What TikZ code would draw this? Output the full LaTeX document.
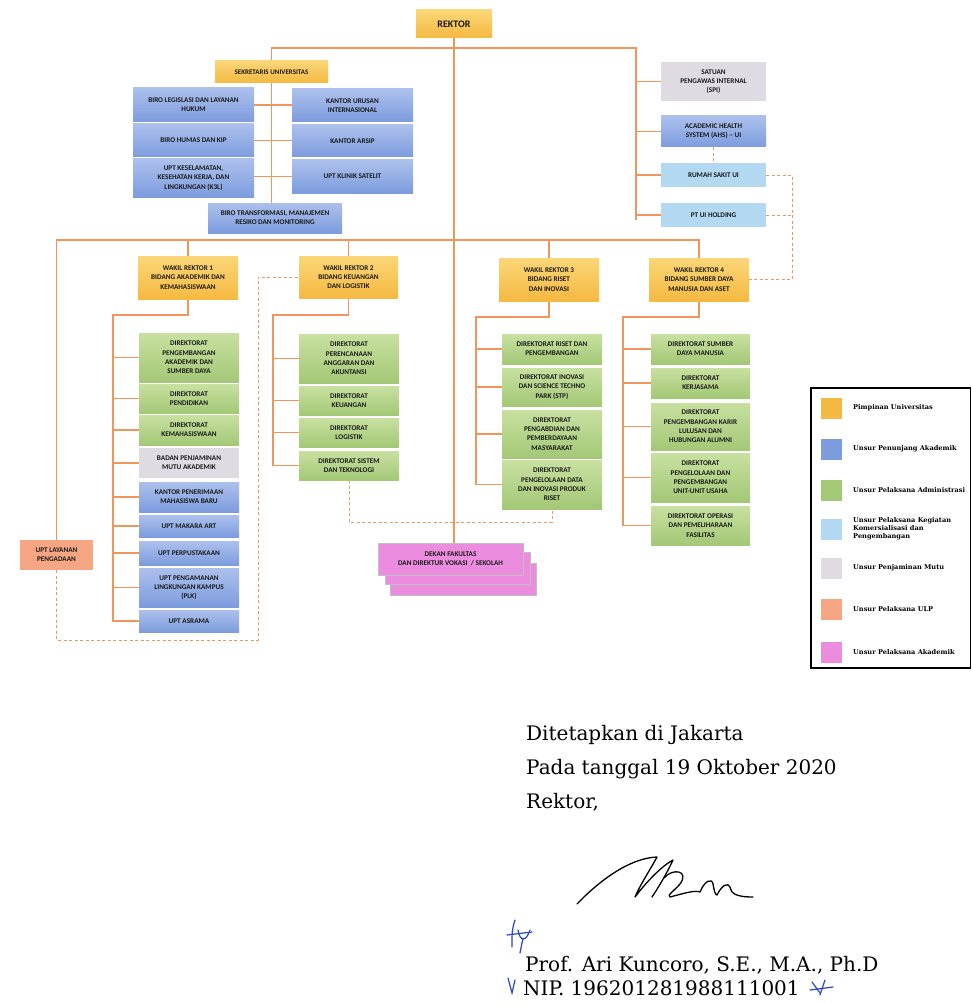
\documentclass[tikz,border=0pt]{standalone}
\usepackage{fontspec}
\setmainfont{Carlito}
\newfontfamily\sigfont{DejaVu Serif}
\pgfdeclarelayer{bg}
\pgfsetlayers{bg,main}
\definecolor{lineor}{RGB}{240,150,90}
\definecolor{ldrtop}{RGB}{251,214,120}
\definecolor{ldrbot}{RGB}{245,185,65}
\definecolor{bluetop}{RGB}{172,192,236}
\definecolor{bluebot}{RGB}{125,156,222}
\definecolor{grntop}{RGB}{200,224,160}
\definecolor{grnbot}{RGB}{163,200,118}
\definecolor{ltblue}{RGB}{178,216,242}
\definecolor{mutu}{RGB}{222,219,227}
\definecolor{ulpc}{RGB}{246,166,130}
\definecolor{akad}{RGB}{236,140,222}
\definecolor{inkblue}{RGB}{40,70,200}
\tikzset{
    unit/.style={rectangle, inner sep=1pt, align=center, font=\fontsize{7.2}{9.3}\selectfont\bfseries, text=black!90},
    leader/.style={unit, top color=ldrtop, bottom color=ldrbot},
    penunjang/.style={unit, top color=bluetop, bottom color=bluebot},
    admin/.style={unit, top color=grntop, bottom color=grnbot},
    komersial/.style={unit, fill=ltblue},
    mutubox/.style={unit, fill=mutu},
    ulpbox/.style={unit, fill=ulpc},
    akadbox/.style={unit, fill=akad, draw=black!25, line width=.4pt},
    dim/.style 2 args={minimum width=#1pt, minimum height=#2pt},
    link/.style={draw=lineor, line width=1.4pt},
    dlink/.style={draw=lineor, line width=.8pt, dash pattern=on 3pt off 2.5pt},
    swatch/.style={rectangle, minimum size=21pt, inner sep=0pt},
    keytext/.style={anchor=west, align=left, inner sep=0pt, font=\sigfont\fontsize{6.6}{7.8}\selectfont\bfseries},
    sigtext/.style={anchor=base west, inner sep=0pt, font=\sigfont\fontsize{20}{24}\selectfont},
    sigline/.style={draw=black, line width=1.3pt, line cap=round, line join=round},
    ink/.style={draw=inkblue, line width=1.2pt, line cap=round}
}
\begin{document}
\begin{tikzpicture}[x=1pt, y=-1pt]
    \useasboundingbox (0,0) rectangle (971,1003);

    \node (rektor) [leader, dim={76}{28}, font=\fontsize{10}{12}\selectfont\bfseries] at (454, 24) {REKTOR};
    \node (sekretaris) [leader, dim={113}{22}, font=\fontsize{7}{8}\selectfont\bfseries] at (271.5, 72) {SEKRETARIS UNIVERSITAS};
    \node (biroleg) [penunjang, dim={121}{34}] at (193.5, 105) {BIRO LEGISLASI DAN LAYANAN\\HUKUM};
    \node (birohumas) [penunjang, dim={121}{33}] at (193.5, 140.5) {BIRO HUMAS DAN KIP};
    \node (uptkkl) [penunjang, dim={121}{38}] at (193.5, 178) {UPT KESELAMATAN,\\KESEHATAN KERJA, DAN\\LINGKUNGAN (K3L)};
    \node (kui) [penunjang, dim={121}{33}] at (352.5, 105.5) {KANTOR URUSAN\\INTERNASIONAL};
    \node (arsip) [penunjang, dim={121}{32}] at (352.5, 141) {KANTOR ARSIP};
    \node (klinik) [penunjang, dim={121}{33}] at (352.5, 176.5) {UPT KLINIK SATELIT};
    \node (birotrans) [penunjang, dim={134}{30}] at (275, 218) {BIRO TRANSFORMASI, MANAJEMEN\\RESIKO DAN MONITORING};

    \node (spi) [mutubox, dim={105}{39}] at (713.5, 81.5) {SATUAN\\PENGAWAS INTERNAL\\(SPI)};
    \node (ahs) [penunjang, dim={105}{31}] at (713.5, 131.5) {ACADEMIC HEALTH\\SYSTEM (AHS) -- UI};
    \node (rsui) [komersial, dim={105}{24}] at (713.5, 175) {RUMAH SAKIT UI};
    \node (ptui) [komersial, dim={105}{24}] at (713.5, 215) {PT UI HOLDING};

    \node (wr1) [leader, dim={100}{43}] at (188, 277.5) {WAKIL REKTOR 1\\BIDANG AKADEMIK DAN\\KEMAHASISWAAN};
    \node (wr2) [leader, dim={99}{42}] at (348.5, 277) {WAKIL REKTOR 2\\BIDANG KEUANGAN\\DAN LOGISTIK};
    \node (wr3) [leader, dim={100}{43}] at (549, 279.5) {WAKIL REKTOR 3\\BIDANG RISET\\DAN INOVASI};
    \node (wr4) [leader, dim={100}{43}] at (699, 279.5) {WAKIL REKTOR 4\\BIDANG SUMBER DAYA\\MANUSIA DAN ASET};

    \node (dpasd) [admin, dim={100}{49}] at (189, 357.5) {DIREKTORAT\\PENGEMBANGAN\\AKADEMIK DAN\\SUMBER DAYA};
    \node (dpend) [admin, dim={100}{29}] at (189, 398.5) {DIREKTORAT\\PENDIDIKAN};
    \node (dkema) [admin, dim={100}{30}] at (189, 430) {DIREKTORAT\\KEMAHASISWAAN};
    \node (bpma) [mutubox, dim={100}{30}] at (189, 463) {BADAN PENJAMINAN\\MUTU AKADEMIK};
    \node (kpmb) [penunjang, dim={100}{30}] at (189, 497) {KANTOR PENERIMAAN\\MAHASISWA BARU};
    \node (makara) [penunjang, dim={100}{22}] at (189, 526) {UPT MAKARA ART};
    \node (perpus) [penunjang, dim={100}{24}] at (189, 553) {UPT PERPUSTAKAAN};
    \node (plk) [penunjang, dim={100}{39}] at (189, 587.5) {UPT PENGAMANAN\\LINGKUNGAN KAMPUS\\(PLK)};
    \node (asrama) [penunjang, dim={100}{22}] at (189, 621) {UPT ASRAMA};

    \node (dpaa) [admin, dim={100}{49}] at (349, 358.5) {DIREKTORAT\\PERENCANAAN\\ANGGARAN DAN\\AKUNTANSI};
    \node (dkeu) [admin, dim={100}{29}] at (349, 400.5) {DIREKTORAT\\KEUANGAN};
    \node (dlog) [admin, dim={100}{29}] at (349, 432.5) {DIREKTORAT\\LOGISTIK};
    \node (dsti) [admin, dim={100}{29}] at (349, 465.5) {DIREKTORAT SISTEM\\DAN TEKNOLOGI};

    \node (drp) [admin, dim={100}{30}] at (552, 349) {DIREKTORAT RISET DAN\\PENGEMBANGAN};
    \node (dstp) [admin, dim={100}{38}] at (552, 387) {DIREKTORAT INOVASI\\DAN SCIENCE TECHNO\\PARK (STP)};
    \node (dppm) [admin, dim={100}{48}] at (552, 434) {DIREKTORAT\\PENGABDIAN DAN\\PEMBERDAYAAN\\MASYARAKAT};
    \node (dpdi) [admin, dim={100}{49}] at (552, 484.5) {DIREKTORAT\\PENGELOLAAN DATA\\DAN INOVASI PRODUK\\RISET};

    \node (dsdm) [admin, dim={99}{30}] at (700.5, 349) {DIREKTORAT SUMBER\\DAYA MANUSIA};
    \node (dkerja) [admin, dim={99}{30}] at (700.5, 383) {DIREKTORAT\\KERJASAMA};
    \node (dkarir) [admin, dim={99}{47}] at (700.5, 426.5) {DIREKTORAT\\PENGEMBANGAN KARIR\\LULUSAN DAN\\HUBUNGAN ALUMNI};
    \node (dusaha) [admin, dim={99}{49}] at (700.5, 477.5) {DIREKTORAT\\PENGELOLAAN DAN\\PENGEMBANGAN\\UNIT-UNIT USAHA};
    \node (dfasil) [admin, dim={99}{39}] at (700.5, 525.5) {DIREKTORAT OPERASI\\DAN PEMELIHARAAN\\FASILITAS};

    \node (ulp) [ulpbox, dim={73}{30}] at (56.5, 555) {UPT LAYANAN\\PENGADAAN};

    \node (dekan3) [akadbox, dim={146}{32}] at (463, 579) {};
    \node (dekan2) [akadbox, dim={145}{32}] at (457.5, 568.5) {};
    \node (dekan) [akadbox, dim={145}{32}] at (450.5, 559) {DEKAN FAKULTAS\\DAN DIREKTUR VOKASI~~/ SEKOLAH};

    % legend
    \draw [line width=1.2pt] (811, 388) rectangle (970.4, 668);
    \foreach \n/\y/\c/\t in {1/408/ldrbot/Pimpinan Universitas, 2/449/bluebot/Unsur Penunjang Akademik,
        3/490/grnbot/Unsur Pelaksana Administrasi, 4/529/ltblue/{Unsur Pelaksana Kegiatan\\Komersialisasi dan\\Pengembangan},
        5/568/mutu/Unsur Penjaminan Mutu, 6/609/ulpc/Unsur Pelaksana ULP, 7/652/akad/Unsur Pelaksana Akademik}
    {
        \node (key\n) [swatch, fill=\c] at (831.5, \y) {};
        \node (keytxt\n) [keytext] at (853, \y) {\t};
    }

    % signature block
    \node (place) [sigtext] at (526, 740) {Ditetapkan di Jakarta};
    \node (date) [sigtext] at (526, 774) {Pada tanggal 19 Oktober 2020};
    \node (title) [sigtext] at (526, 808) {Rektor,};
    \node (name) [sigtext] at (525, 971) {Prof. Ari Kuncoro, S.E., M.A., Ph.D};
    \node (nip) [sigtext] at (523, 995) {NIP. 196201281988111001};

    \draw [sigline] (577,904) .. controls (600,880) and (630,858) .. (657,857)
        .. controls (650,870) and (640,885) .. (635,897)
        .. controls (648,880) and (662,866) .. (673,860)
        .. controls (666,875) and (658,888) .. (652,897);
    \draw [sigline] (664,878) .. controls (672,868) and (690,870) .. (680,884)
        .. controls (675,890) and (666,896) .. (670,897)
        .. controls (685,893) and (695,890) .. (700,892)
        .. controls (705,880) and (712,878) .. (713,884)
        .. controls (714,890) and (715,895) .. (717,895)
        .. controls (722,885) and (728,882) .. (730,887)
        .. controls (731,893) and (735,897) .. (753,897);
    \draw [ink] (515,920) .. controls (512,930) .. (512,947);
    \draw [ink] (518,930) .. controls (520,942) and (526,942) .. (530,930);
    \draw [ink] (507,935) -- (532,932);
    \draw [ink] (523,938) -- (520,953);
    \draw [ink] (508,978) -- (512,993) -- (515,980);
    \draw [ink] (812,982) -- (820,993);
    \draw [ink] (825,980) -- (820,995);
    \draw [ink] (810,990) -- (833,987);

    \begin{pgfonlayer}{bg}
        \fill [white] (0,0) rectangle (971,1003);
        \draw [link] (rektor.south) -- (rektor.south |- dekan.north);
        \coordinate (topbus) at (636, 48);
        \coordinate (topbusend) at (636, 220);
        \draw [link] (sekretaris.north) |- (topbus) -- (topbusend);
        \foreach \r in {spi, ahs, rsui, ptui}
            \draw [link] (topbus |- \r.west) -- (\r.west);
        \draw [link] (sekretaris.south) -- (sekretaris.south |- birotrans.north);
        \draw [link] (biroleg.east) -- (biroleg.east -| kui.west);
        \draw [link] (birohumas.east) -- (birohumas.east -| arsip.west);
        \draw [link] (klinik.west -| uptkkl.east) -- (klinik.west);

        \coordinate (midbus) at (0, 240);
        \draw [link] (ulp.north) -- (ulp.north |- midbus) -| (wr4.north);
        \foreach \w in {wr1, wr2, wr3}
            \draw [link] (\w.north) -- (\w.north |- midbus);

        \coordinate (knee1) at (113, 315);
        \draw [link] (wr1.south) |- (knee1) |- (asrama.west);
        \foreach \c in {dpasd, dpend, dkema, bpma, kpmb, makara, perpus, plk}
            \draw [link] (knee1 |- \c.west) -- (\c.west);
        \coordinate (knee2) at (273, 315);
        \draw [link] (wr2.south) |- (knee2) |- (dsti.west);
        \foreach \c in {dpaa, dkeu, dlog}
            \draw [link] (knee2 |- \c.west) -- (\c.west);
        \coordinate (knee3) at (476, 317);
        \draw [link] (wr3.south) |- (knee3) |- (dpdi.west);
        \foreach \c in {drp, dstp, dppm}
            \draw [link] (knee3 |- \c.west) -- (\c.west);
        \coordinate (knee4) at (623, 317);
        \draw [link] (wr4.south) |- (knee4) |- (dfasil.west);
        \foreach \c in {dsdm, dkerja, dkarir, dusaha}
            \draw [link] (knee4 |- \c.west) -- (\c.west);

        \draw [dlink] (ahs.south) -- (rsui.north);
        \coordinate (rdash) at (792, 0);
        \draw [dlink] (rsui.east) -- (rsui.east -| rdash) -- (rdash |- wr4.east) -- (wr4.east);
        \draw [dlink] (ptui.east) -- (ptui.east -| rdash);
        \coordinate (ldash) at (258, 640);
        \draw [dlink] (ulp.south) |- (ldash) |- (wr2.west);
        \coordinate (mdash) at (0, 522);
        \draw [dlink] (dsti.south) -- (dsti.south |- mdash) -| (dpdi.south);
    \end{pgfonlayer}
\end{tikzpicture}
\end{document}
